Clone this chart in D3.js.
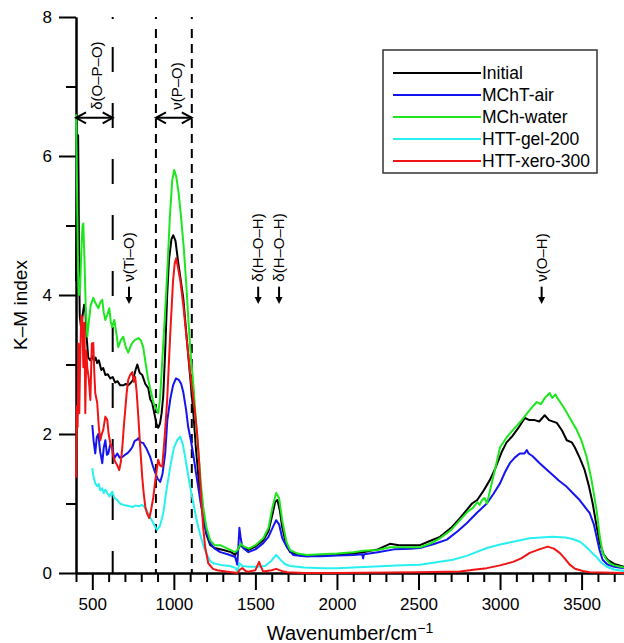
<!DOCTYPE html>
<html lang="en">
<head>
<meta charset="utf-8">
<title>K-M spectra</title>
<script src="https://cdn.jsdelivr.net/npm/d3@7"></script>
<style>
  body { margin: 0; background: #fff; }
  text { font-family: "Liberation Sans", Arial, Helvetica, sans-serif; fill: #000; }
</style>
</head>
<body>
<div id="chart"></div>
<script>
    // series labels + colours (legend order)
    var seriesNames = ["Initial", "MChT-air", "MCh-water", "HTT-gel-200", "HTT-xero-300"];
    var seriesColors = ["#000000", "#1414f0", "#1ee61e", "#28f0f0", "#f01414"];

    // [wavenumber (cm-1), K-M index]
    var initial = [[400,4.2],[406,5.6],[410,6.2],[413,6.3],[416,5.6],[419,4.4],[423,3.7],[430,3.55],[440,3.7],[450,3.86],[457,3.8],[465,3.4],[475,3.1],[488,3.06],[500,3.12],[510,3.05],[520,3.1],[530,3.02],[540,3.06],[555,2.92],[567,2.95],[580,2.85],[595,2.86],[610,2.8],[625,2.82],[640,2.74],[655,2.76],[671,2.7],[690,2.7],[705,2.72],[720,2.7],[733,2.73],[750,2.78],[765,2.92],[776,3.0],[790,2.88],[806,2.85],[825,2.72],[843,2.66],[855,2.5],[867,2.45],[880,2.3],[893,2.15],[904,2.09],[915,2.15],[925,2.3],[935,2.55],[947,3.2],[959,4.0],[970,4.5],[985,4.8],[996,4.86],[1010,4.78],[1025,4.5],[1040,4.25],[1058,3.95],[1080,3.35],[1100,2.82],[1118,2.35],[1135,1.8],[1150,1.4],[1165,1.05],[1180,0.81],[1200,0.55],[1223,0.4],[1250,0.36],[1304,0.33],[1350,0.3],[1376,0.26],[1385,0.3],[1407,0.4],[1425,0.38],[1456,0.33],[1500,0.38],[1548,0.47],[1580,0.6],[1605,0.85],[1621,1.02],[1635,1.05],[1650,0.9],[1664,0.66],[1690,0.4],[1713,0.3],[1760,0.26],[1816,0.24],[1900,0.25],[2000,0.26],[2100,0.28],[2160,0.3],[2250,0.34],[2325,0.42],[2380,0.4],[2448,0.4],[2509,0.4],[2570,0.46],[2632,0.52],[2700,0.65],[2754,0.79],[2800,0.92],[2828,1.0],[2860,1.05],[2895,1.17],[2938,1.34],[2970,1.5],[3010,1.74],[3040,1.88],[3072,1.96],[3110,2.08],[3152,2.23],[3180,2.2],[3213,2.2],[3240,2.18],[3274,2.27],[3300,2.2],[3348,2.16],[3380,2.05],[3409,1.91],[3440,1.88],[3458,1.81],[3490,1.65],[3519,1.48],[3545,1.25],[3568,1.0],[3590,0.7],[3611,0.43],[3635,0.27],[3660,0.19],[3700,0.13],[3760,0.09]];

    var mchtAir = [[500,2.13],[508,1.9],[518,1.72],[527,1.95],[537,2.0],[548,1.75],[561,1.58],[570,1.8],[580,1.91],[590,1.7],[598,1.72],[610,1.85],[622,1.81],[635,1.65],[653,1.72],[668,1.66],[684,1.67],[700,1.7],[714,1.72],[730,1.76],[745,1.81],[760,1.9],[775,1.92],[782,1.94],[797,1.88],[812,1.87],[830,1.8],[855,1.67],[870,1.55],[886,1.44],[900,1.36],[916,1.31],[930,1.42],[947,1.72],[960,2.2],[978,2.5],[995,2.7],[1013,2.8],[1030,2.78],[1045,2.72],[1058,2.6],[1075,2.35],[1088,2.1],[1105,1.9],[1118,1.72],[1135,1.45],[1149,1.24],[1165,1.0],[1180,0.81],[1200,0.58],[1223,0.43],[1250,0.35],[1285,0.3],[1330,0.27],[1376,0.23],[1389,0.12],[1396,0.4],[1402,0.65],[1410,0.5],[1420,0.37],[1440,0.33],[1457,0.3],[1500,0.34],[1548,0.43],[1580,0.52],[1605,0.65],[1627,0.76],[1645,0.7],[1665,0.5],[1694,0.37],[1731,0.26],[1800,0.24],[1900,0.24],[2000,0.25],[2100,0.26],[2155,0.27],[2160,0.21],[2166,0.27],[2250,0.3],[2350,0.34],[2450,0.35],[2509,0.36],[2600,0.42],[2674,0.48],[2740,0.6],[2797,0.72],[2860,0.87],[2919,1.0],[2960,1.14],[3000,1.29],[3030,1.45],[3060,1.58],[3090,1.66],[3121,1.72],[3150,1.72],[3164,1.77],[3175,1.72],[3200,1.68],[3243,1.58],[3280,1.5],[3323,1.41],[3360,1.33],[3409,1.24],[3450,1.14],[3488,1.05],[3520,0.95],[3550,0.86],[3575,0.7],[3592,0.52],[3610,0.33],[3629,0.19],[3660,0.12],[3700,0.09],[3760,0.07]];

    var mchWater = [[400,6.6],[404,6.0],[408,5.2],[413,4.3],[418,4.0],[425,4.1],[432,4.6],[440,5.0],[445,5.03],[452,4.5],[460,3.8],[469,3.4],[478,3.6],[490,3.85],[506,3.96],[520,3.88],[537,3.81],[550,3.9],[561,3.93],[570,3.75],[580,3.64],[592,3.72],[604,3.81],[613,3.62],[622,3.54],[635,3.64],[647,3.45],[659,3.25],[675,3.35],[690,3.4],[705,3.25],[720,3.17],[733,3.25],[745,3.31],[760,3.35],[782,3.38],[797,3.35],[812,3.25],[828,3.0],[843,2.78],[860,2.6],[875,2.45],[886,2.39],[904,2.3],[915,2.5],[930,3.1],[945,3.7],[959,4.3],[975,5.1],[990,5.65],[1002,5.8],[1015,5.7],[1030,5.45],[1045,5.1],[1060,4.7],[1075,4.2],[1090,3.6],[1105,3.1],[1120,2.7],[1135,2.2],[1150,1.75],[1165,1.3],[1180,0.95],[1200,0.65],[1223,0.47],[1250,0.4],[1285,0.4],[1330,0.35],[1376,0.3],[1390,0.33],[1410,0.42],[1430,0.38],[1460,0.35],[1500,0.4],[1548,0.5],[1580,0.65],[1605,0.95],[1627,1.15],[1645,1.08],[1665,0.75],[1690,0.45],[1713,0.33],[1760,0.28],[1816,0.26],[1900,0.27],[2000,0.28],[2100,0.3],[2160,0.32],[2250,0.33],[2325,0.37],[2400,0.37],[2509,0.37],[2570,0.42],[2632,0.5],[2700,0.62],[2754,0.76],[2800,0.88],[2835,0.94],[2860,1.02],[2875,0.98],[2890,1.05],[2905,1.08],[2920,1.0],[2940,1.2],[2970,1.5],[3000,1.81],[3040,1.95],[3080,2.06],[3133,2.2],[3180,2.34],[3225,2.46],[3250,2.43],[3275,2.52],[3304,2.59],[3320,2.52],[3340,2.57],[3348,2.53],[3380,2.42],[3409,2.31],[3440,2.18],[3470,2.06],[3500,1.9],[3531,1.67],[3560,1.35],[3592,0.9],[3610,0.55],[3629,0.29],[3650,0.2],[3672,0.14],[3700,0.11],[3760,0.08]];

    var httGel200 = [[500,1.51],[506,1.4],[518,1.29],[530,1.25],[540,1.28],[549,1.19],[560,1.22],[570,1.15],[580,1.2],[592,1.15],[605,1.1],[622,1.17],[635,1.08],[653,1.05],[670,1.0],[690,0.98],[710,0.97],[730,0.96],[745,0.95],[765,0.97],[785,0.96],[806,0.98],[820,0.95],[837,0.88],[855,0.8],[874,0.72],[886,0.66],[898,0.62],[915,0.68],[935,0.86],[955,1.2],[978,1.53],[1000,1.8],[1020,1.91],[1039,1.96],[1055,1.85],[1069,1.67],[1085,1.45],[1100,1.24],[1120,1.0],[1143,0.72],[1162,0.55],[1180,0.4],[1200,0.28],[1223,0.17],[1243,0.14],[1300,0.11],[1345,0.1],[1380,0.07],[1389,0.02],[1396,0.08],[1402,0.14],[1420,0.1],[1460,0.09],[1511,0.09],[1560,0.1],[1600,0.18],[1627,0.26],[1650,0.2],[1680,0.13],[1713,0.1],[1800,0.08],[1917,0.07],[2000,0.07],[2100,0.08],[2200,0.09],[2300,0.1],[2400,0.11],[2509,0.12],[2600,0.15],[2711,0.19],[2800,0.25],[2919,0.36],[3000,0.41],[3080,0.45],[3182,0.5],[3250,0.51],[3323,0.52],[3400,0.51],[3445,0.49],[3490,0.45],[3531,0.37],[3560,0.3],[3592,0.23],[3620,0.15],[3654,0.09],[3700,0.05],[3760,0.03]];

    var httXero300 = [[400,1.37],[405,2.4],[410,2.1],[415,3.3],[420,2.3],[425,3.0],[432,3.7],[439,3.68],[445,2.96],[452,3.6],[457,2.3],[463,3.2],[469,2.96],[478,2.8],[488,2.49],[497,3.3],[506,3.31],[512,2.9],[518,2.59],[530,2.45],[540,2.1],[549,1.91],[558,2.0],[567,2.06],[580,2.25],[592,2.2],[600,2.0],[610,1.87],[620,1.8],[629,1.67],[640,1.6],[653,1.55],[665,1.48],[675,1.6],[684,1.81],[693,2.1],[702,2.35],[711,2.6],[720,2.78],[732,2.85],[745,2.89],[755,2.75],[763,2.82],[772,2.6],[782,2.25],[794,1.8],[806,1.38],[815,1.15],[825,0.95],[837,0.85],[849,0.79],[860,0.9],[874,1.09],[890,1.4],[904,1.63],[915,1.55],[929,1.53],[945,2.0],[959,2.49],[978,3.45],[995,4.2],[1005,4.45],[1014,4.53],[1025,4.4],[1040,4.2],[1058,3.85],[1075,3.45],[1090,3.1],[1100,2.88],[1115,2.6],[1130,2.3],[1143,2.0],[1155,1.6],[1168,1.05],[1180,0.65],[1192,0.37],[1211,0.14],[1240,0.06],[1266,0.04],[1320,0.02],[1389,0.0],[1405,0.05],[1420,0.07],[1440,0.03],[1456,0.02],[1500,0.04],[1515,0.12],[1523,0.16],[1532,0.1],[1548,0.02],[1600,0.04],[1627,0.06],[1660,0.03],[1694,0.01],[1800,0.0],[2000,0.0],[2500,0.01],[2754,0.02],[2850,0.05],[2919,0.07],[3000,0.11],[3080,0.16],[3130,0.21],[3182,0.29],[3240,0.34],[3292,0.38],[3330,0.35],[3366,0.29],[3400,0.2],[3427,0.12],[3460,0.06],[3507,0.03],[3550,0.01],[3760,0.0]];

    var allSeries = [initial, mchtAir, mchWater, httGel200, httXero300];

    // axis ticks
    var yTicks = [0, 2, 4, 6, 8];
    var yMinorTicks = [1, 3, 5, 7];
    var xTicks = [500, 1000, 1500, 2000, 2500, 3000, 3500];

    // band markers (cm-1) and arrow annotations
    var bandOPO = [400, 625];
    var bandPO = [890, 1110];
    var peakMarks = [
        {x: 725, label: "ν(Ti–O)"},
        {x: 1517, label: "δ(H–O–H)"},
        {x: 1645, label: "δ(H–O–H)"},
        {x: 3255, label: "ν(O–H)"}
    ];

    var w = 624, h = 643;
    // plot box (window.top is read-only, so no "top" here)
    var plotLeft = 76, plotRight = 624, plotTop = 17, plotBottom = 573;

    var svg = d3.select("#chart").append("svg")
        .attr("width", w)
        .attr("height", h);

    var xScale = d3.scaleLinear().domain([400, 3760]).range([plotLeft, plotRight]);
    var yScale = d3.scaleLinear().domain([0, 8]).range([plotBottom, plotTop]);

    // axes
    var xMinor = d3.range(400, 3800, 100).filter(function (d) { return d % 500 !== 0; });

    svg.append("g")
        .attr("class", "axis")
        .attr("transform", "translate(0," + plotBottom + ")")
        .call(d3.axisBottom(xScale).tickValues(xMinor).tickSize(9).tickSizeOuter(0).tickFormat(""));
    svg.append("g")
        .attr("class", "axis")
        .attr("transform", "translate(0," + plotBottom + ")")
        .call(d3.axisBottom(xScale).tickValues(xTicks).tickSize(17).tickPadding(8).tickSizeOuter(0)
            .tickFormat(d3.format("d")));

    svg.append("g")
        .attr("class", "axis")
        .attr("transform", "translate(" + plotLeft + ",0)")
        .call(d3.axisLeft(yScale).tickValues(yMinorTicks).tickSize(10).tickSizeOuter(0).tickFormat(""));
    svg.append("g")
        .attr("class", "axis")
        .attr("transform", "translate(" + plotLeft + ",0)")
        .call(d3.axisLeft(yScale).tickValues(yTicks).tickSize(17).tickPadding(7).tickSizeOuter(0)
            .tickFormat(d3.format("d")));

    svg.selectAll(".axis path, .axis line").attr("stroke", "#000").attr("stroke-width", 2);
    svg.selectAll(".axis text").attr("font-size", "17px").attr("fill", "#000")
        .attr("font-family", "'Liberation Sans', Arial, sans-serif");

    // axis titles
    svg.append("text")
        .attr("text-anchor", "middle")
        .attr("transform", "translate(27," + ((plotTop + plotBottom) / 2 + 10) + ")rotate(-90)")
        .style("font-size", "19px")
        .text("K–M index");

    var xt = svg.append("text")
        .attr("text-anchor", "middle")
        .attr("x", (plotLeft + plotRight) / 2)
        .attr("y", 640)
        .style("font-size", "20px");
    xt.append("tspan").text("Wavenumber/cm");
    xt.append("tspan").attr("dy", -7).style("font-size", "14px").text("−1");

    // vertical marker lines
    function dashPattern(first, gap0, dash, gap, n) {
        var p = [first, gap0];
        for (var i = 0; i < n; i++) { p.push(dash, gap); }
        return p.join(",");
    }
    svg.append("line")
        .attr("x1", xScale(bandOPO[1])).attr("x2", xScale(bandOPO[1]))
        .attr("y1", yScale(8)).attr("y2", yScale(0))
        .attr("stroke", "#000").attr("stroke-width", 2)
        .attr("stroke-dasharray", dashPattern(2, 28, 25, 31, 11));
    bandPO.forEach(function (v) {
        svg.append("line")
            .attr("x1", xScale(v)).attr("x2", xScale(v))
            .attr("y1", yScale(8)).attr("y2", yScale(0))
            .attr("stroke", "#000").attr("stroke-width", 2)
            .attr("stroke-dasharray", dashPattern(2, 10, 9, 6, 40));
    });

    // spectra
    var line = d3.line()
        .x(function (d) { return xScale(d[0]); })
        .y(function (d) { return yScale(d[1]); });

    allSeries.forEach(function (s, i) {
        svg.append("path")
            .datum(s)
            .attr("fill", "none")
            .attr("stroke", seriesColors[i])
            .attr("stroke-width", 2)
            .attr("stroke-linejoin", "round")
            .attr("d", line);
    });

    // double arrows for band ranges
    var arrowY = yScale(6.55);
    function doubleArrow(a, b, label) {
        var x0 = xScale(a), x1 = xScale(b);
        var g = svg.append("g").attr("stroke", "#000").attr("stroke-width", 2).attr("fill", "none");
        g.append("line").attr("x1", x0).attr("x2", x1).attr("y1", arrowY).attr("y2", arrowY);
        g.append("path").attr("d", "M" + (x0 + 10) + "," + (arrowY - 5.5) + "L" + x0 + "," + arrowY + "L" + (x0 + 10) + "," + (arrowY + 5.5));
        g.append("path").attr("d", "M" + (x1 - 10) + "," + (arrowY - 5.5) + "L" + x1 + "," + arrowY + "L" + (x1 - 10) + "," + (arrowY + 5.5));
        svg.append("text")
            .attr("transform", "translate(" + ((x0 + x1) / 2 + 8) + "," + (arrowY - 8) + ")rotate(-90)")
            .style("font-size", "15px")
            .text(label);
    }
    doubleArrow(bandOPO[0], bandOPO[1], "δ(O–P–O)");
    doubleArrow(bandPO[0], bandPO[1], "ν(P–O)");

    // down arrows for peak assignments
    peakMarks.forEach(function (m) {
        var ax = xScale(m.x);
        var y0 = yScale(4.12), y1 = yScale(3.87);
        svg.append("line")
            .attr("x1", ax).attr("x2", ax).attr("y1", y0).attr("y2", y1 - 6)
            .attr("stroke", "#000").attr("stroke-width", 2);
        svg.append("path")
            .attr("d", "M" + (ax - 3.5) + "," + (y1 - 7) + "L" + (ax + 3.5) + "," + (y1 - 7) + "L" + ax + "," + y1 + "Z")
            .attr("fill", "#000");
        svg.append("text")
            .attr("transform", "translate(" + (ax + 5) + "," + (y0 - 5) + ")rotate(-90)")
            .style("font-size", "15px")
            .text(m.label);
    });

    // legend
    var lg = svg.append("g").attr("transform", "translate(383,50)");
    lg.append("rect")
        .attr("width", 214).attr("height", 123)
        .attr("fill", "#fff").attr("stroke", "#333").attr("stroke-width", 1.5);
    seriesNames.forEach(function (name, i) {
        var ly = 23 + i * 22;
        lg.append("line")
            .attr("x1", 10).attr("x2", 98).attr("y1", ly).attr("y2", ly)
            .attr("stroke", seriesColors[i]).attr("stroke-width", 2);
        lg.append("text")
            .attr("x", 99).attr("y", ly + 6)
            .style("font-size", "17.5px")
            .text(name);
    });
</script>
</body>
</html>
